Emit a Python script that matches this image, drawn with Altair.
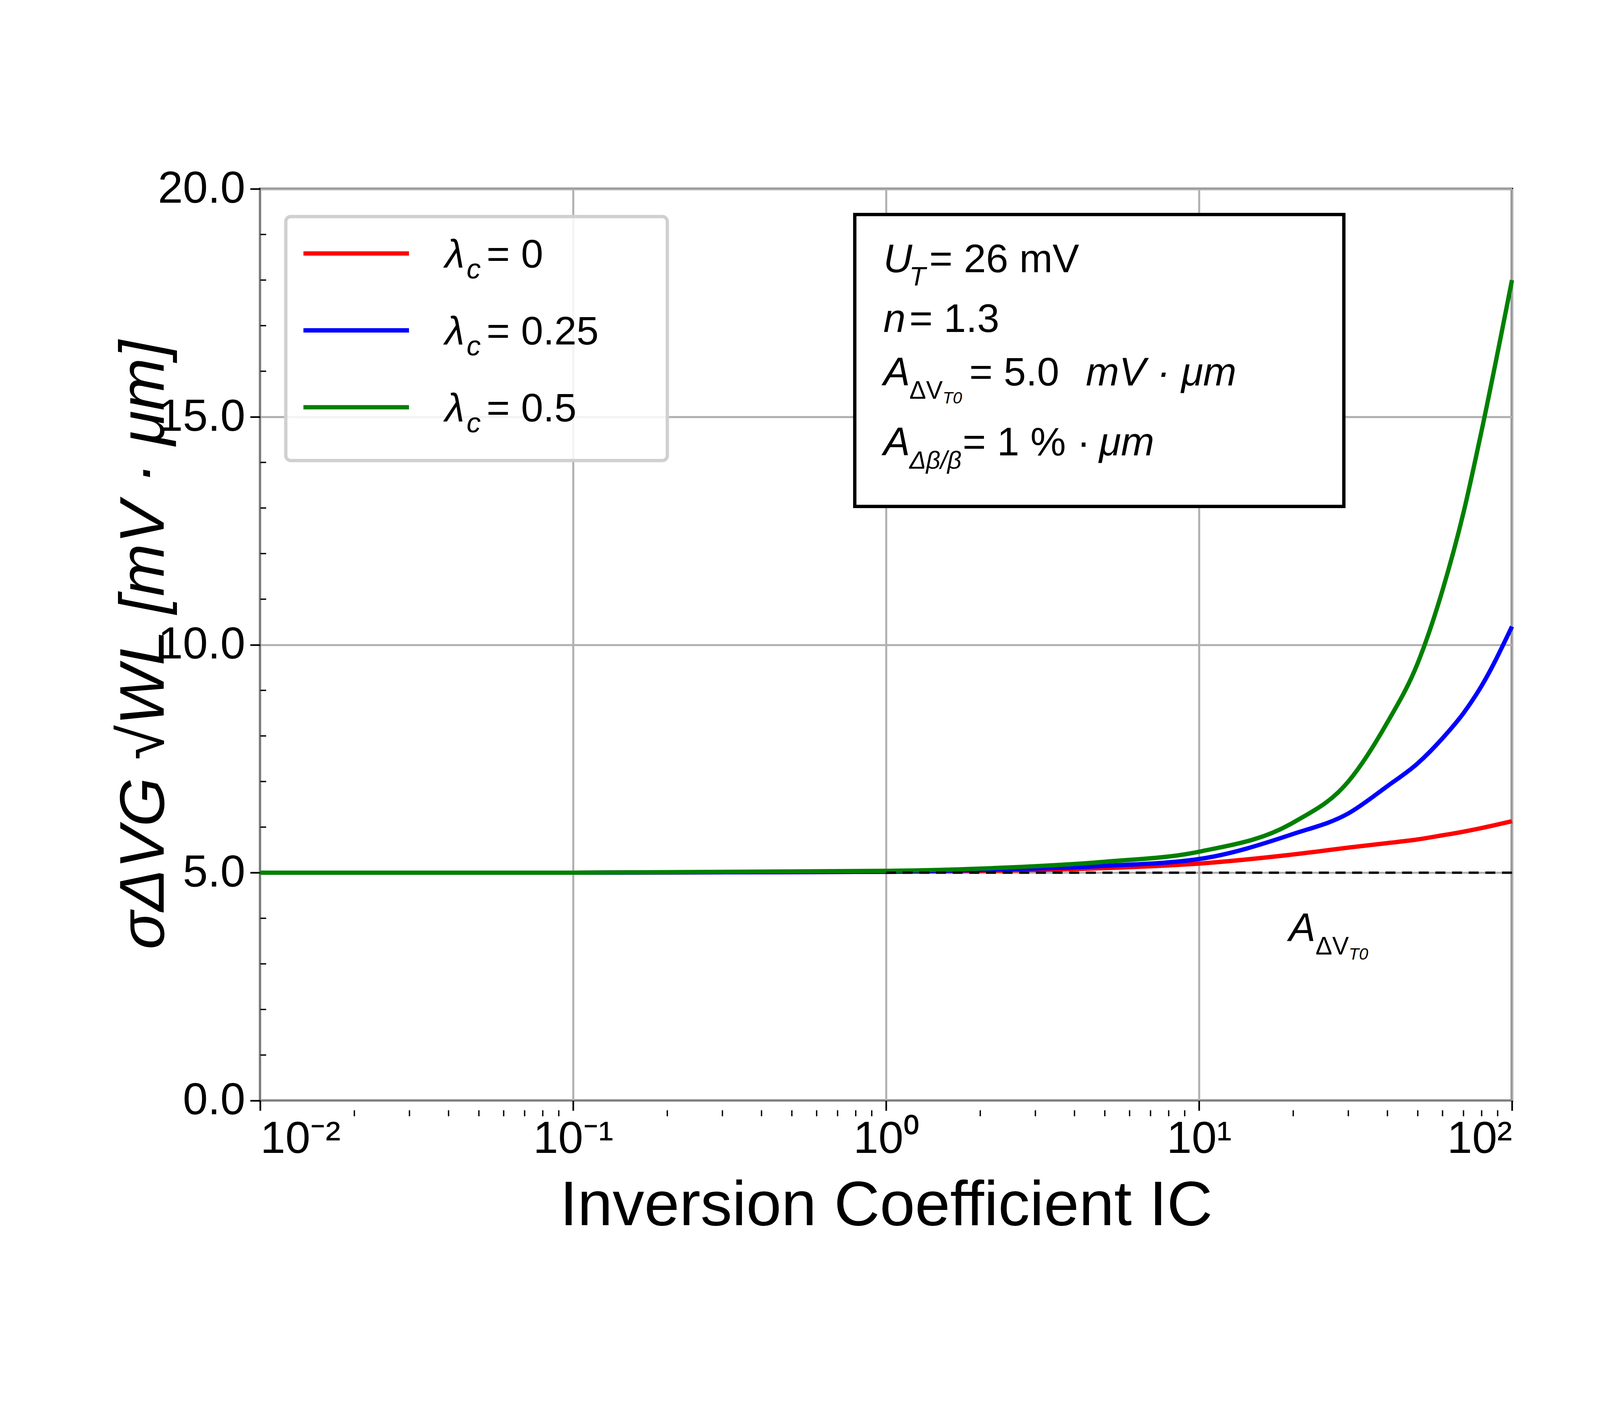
import altair as alt
import pandas as pd

IC = [0.01, 0.1, 1, 2, 5, 10, 20, 30, 40, 50, 60, 70, 80, 100]
RED = [5.0, 5.0, 5.02, 5.04, 5.1, 5.2, 5.4, 5.55, 5.65, 5.73, 5.82, 5.9, 5.98, 6.13]
BLUE = [5.0, 5.0, 5.02, 5.06, 5.15, 5.3, 5.85, 6.3, 6.9, 7.4, 7.95, 8.5, 9.1, 10.4]
GREEN = [5.0, 5.0, 5.04, 5.09, 5.24, 5.46, 6.1, 7.0, 8.3, 9.6, 11.2, 12.9, 14.7, 18.0]
LABELS = ["λc = 0", "λc = 0.25", "λc = 0.5"]
COLORS = ["#ff0000", "#0000ff", "#008000"]

W, H = 3735, 2786
FONT = "Liberation Sans"

rows = []
for lab, ys in zip(LABELS, [RED, BLUE, GREEN]):
    for x, y in zip(IC, ys):
        rows.append({"ic": x, "v": y, "series": lab})
df = pd.DataFrame(rows)

xs = alt.Scale(type="log", domain=[0.01, 100], nice=False)
ys = alt.Scale(domain=[0, 20], nice=False)

label_expr = ("datum.value < 0.05 ? '10⁻²' : datum.value < 0.5 ? '10⁻¹' : "
              "datum.value < 5 ? '10⁰' : datum.value < 50 ? '10¹' : '10²'")

lines = alt.Chart(df).mark_line(strokeWidth=13, interpolate="monotone").encode(
    x=alt.X("ic:Q", scale=xs, title="Inversion Coefficient IC",
            axis=alt.Axis(values=[0.01, 0.1, 1, 10, 100], labelExpr=label_expr,
                          grid=True, gridColor="#b0b0b0", gridWidth=6, labelLimit=0,
                          tickSize=30, tickWidth=5, labelFontSize=135, titleFontSize=190,
                          labelPadding=20, titlePadding=40)),
    y=alt.Y("v:Q", scale=ys, title="σΔVG √WL  [mV · μm]",
            axis=alt.Axis(values=[0, 5, 10, 15, 20], grid=True, gridColor="#b0b0b0",
                          gridWidth=6, tickSize=30, tickWidth=5, labelFontSize=135,
                          labelLimit=0, labelPadding=15,
                          titleFontSize=190, titlePadding=50, titleFontStyle="italic")),
    color=alt.Color("series:N", scale=alt.Scale(domain=LABELS, range=COLORS), legend=None),
    order=alt.Order("ic:Q"),
)

dash = alt.Chart(pd.DataFrame({"ic": [1, 100], "v": [5, 5]})).mark_line(
    color="black", strokeDash=[30, 20], strokeWidth=7).encode(
    x=alt.X("ic:Q", scale=xs), y=alt.Y("v:Q", scale=ys))

minor_x = [m * d for d in [0.01, 0.1, 1, 10] for m in range(2, 10)]
mx = alt.Chart(pd.DataFrame({"ic": minor_x})).mark_rule(color="black", strokeWidth=4).encode(
    x=alt.X("ic:Q", scale=xs), y=alt.value(H), y2=alt.value(H - 18))
minor_y = [v for v in range(1, 20) if v % 5]
my = alt.Chart(pd.DataFrame({"v": minor_y})).mark_rule(color="black", strokeWidth=4).encode(
    y=alt.Y("v:Q", scale=ys), x=alt.value(0), x2=alt.value(18))


def texts(items):
    d = pd.DataFrame(items, columns=["px", "py", "t", "size", "style"])
    out = []
    for (size, style), g in d.groupby(["size", "style"]):
        out.append(alt.Chart(g).mark_text(align="left", baseline="alphabetic", font=FONT,
                                          fontSize=size, fontStyle=style).encode(
            x=alt.X("px:Q", scale=None), y=alt.Y("py:Q", scale=None), text="t:N"))
    return alt.layer(*out)


# legend box
leg_box = alt.Chart(pd.DataFrame({"a": [0]})).mark_rect(
    fill="white", fillOpacity=0.85, stroke="#d0d0d0", strokeWidth=10, cornerRadius=15).encode(
    x=alt.value(77), x2=alt.value(1223), y=alt.value(83), y2=alt.value(816))
leg_lines = alt.Chart(pd.DataFrame({"series": LABELS, "py": [194, 425, 656]})).mark_rule(
    strokeWidth=13).encode(
    x=alt.value(130), x2=alt.value(447), y=alt.Y("py:Q", scale=None),
    color=alt.Color("series:N", scale=alt.Scale(domain=LABELS, range=COLORS), legend=None))
leg_items = []
for lab, py in zip(["0", "0.25", "0.5"], [194, 425, 656]):
    leg_items += [(555, py + 42, "λ", 120, "italic"), (620, py + 75, "c", 85, "italic"),
                  (680, py + 42, "=  " + lab, 120, "normal")]
leg_text = texts(leg_items)

# info box
info_box = alt.Chart(pd.DataFrame({"a": [0]})).mark_rect(
    fill="white", stroke="black", strokeWidth=10).encode(
    x=alt.value(1786), x2=alt.value(3255), y=alt.value(77), y2=alt.value(954))
info_text = texts([
    (1872, 250, "U", 120, "italic"), (1950, 290, "T", 80, "italic"),
    (2010, 250, "=  26 mV", 120, "normal"),
    (1872, 430, "n", 120, "italic"), (1950, 430, "=  1.3", 120, "normal"),
    (1872, 590, "A", 120, "italic"), (1950, 630, "ΔV", 75, "normal"),
    (2050, 645, "T0", 50, "italic"), (2130, 590, "=  5.0", 120, "normal"),
    (2480, 590, "mV · μm", 120, "italic"),
    (1872, 800, "A", 120, "italic"), (1950, 840, "Δβ/β", 75, "italic"),
    (2110, 800, "=  1 % ·", 120, "normal"), (2520, 800, "μm", 120, "italic"),
])
ann_text = texts([
    (3090, 2260, "A", 120, "italic"), (3170, 2300, "ΔV", 75, "normal"),
    (3270, 2315, "T0", 50, "italic"),
])

chart = alt.layer(lines, dash, mx, my, leg_box, leg_lines, leg_text, info_box, info_text,
                  ann_text).properties(
    width=4787, height=3625,
    padding={"left": 330, "top": 177, "right": 229, "bottom": 230},
    autosize=alt.AutoSizeParams(type="fit", contains="padding"),
).configure(font=FONT).configure_view(stroke="black", strokeWidth=7).configure_axis(
    labelColor="black", titleColor="black", domainColor="black", tickColor="black",
    titleFontWeight="normal", labelFont=FONT, titleFont=FONT)

chart.save("out.html", embed_options={"renderer": "svg", "actions": False})
